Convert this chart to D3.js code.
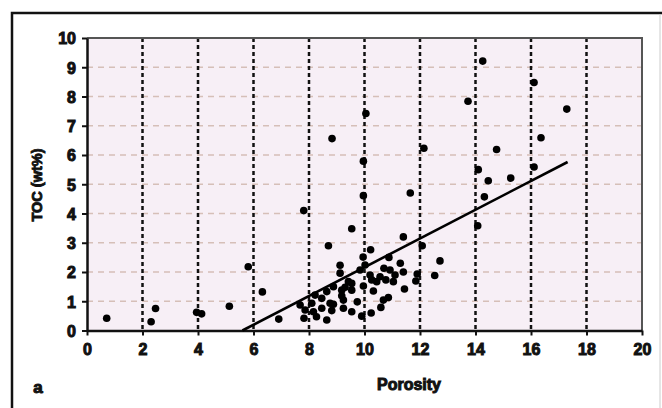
<!DOCTYPE html>
<html>
<head>
<meta charset="utf-8">
<script src="https://cdn.jsdelivr.net/npm/d3@7"></script>
<style>
  body { margin: 0; background: #fff; }
  svg { display: block; }
</style>
</head>
<body>
<div id="chart"></div>
<script>
// porosity (x) and TOC wt% (y)
const porosity = [
  0.71, 2.31, 2.47, 3.95, 4.13, 5.13, 5.81, 6.32, 6.91,
  7.81, 8.70, 8.83, 10.05, 9.96, 12.14, 9.96, 11.65, 9.54,
  14.26, 16.11, 13.73, 17.29, 16.36, 14.76, 14.10, 16.11, 14.46, 15.27, 14.32, 14.08,
  11.40, 12.08, 12.72, 12.53, 9.12, 10.22, 9.95, 10.88, 11.29, 11.40, 11.90, 11.85,
  11.44, 10.56, 10.44, 10.77, 11.04, 10.70, 10.92, 11.10, 9.96, 10.32, 10.26, 9.54,
  9.42, 9.18, 9.12, 8.88, 8.64, 8.46, 8.22, 8.10, 7.86, 7.82, 8.16, 8.27, 8.64, 8.76,
  8.46, 9.24, 9.24, 9.54, 9.74, 9.90, 10.24, 10.59, 10.68, 10.86, 9.54, 7.68, 9.84,
  10.02, 10.20, 9.30, 8.82, 8.88, 9.18
];
const toc = [
  0.42, 0.30, 0.75, 0.62, 0.57, 0.83, 2.18, 1.32, 0.39,
  4.10, 2.90, 6.56, 7.42, 5.79, 6.23, 4.61, 4.70, 3.48,
  9.21, 8.48, 7.84, 7.57, 6.59, 6.19, 5.50, 5.59, 5.12, 5.21, 4.57, 3.58,
  3.20, 2.90, 2.38, 1.88, 2.23, 2.76, 2.51, 2.50, 2.30, 2.00, 1.93, 1.69,
  1.42, 1.84, 1.67, 1.73, 1.67, 2.13, 2.07, 1.90, 1.52, 1.35, 1.73, 1.61,
  1.67, 1.38, 1.96, 1.50, 1.33, 1.10, 1.21, 0.93, 0.70, 0.42, 0.64, 0.47, 0.36, 0.93,
  0.76, 1.04, 0.76, 0.64, 0.98, 0.49, 0.60, 0.79, 1.04, 1.13, 1.38, 0.87, 2.07,
  2.24, 1.90, 1.48, 0.68, 0.90, 1.19
];
// trend line end points
const trendX = [5.6, 17.32];
const trendY = [0, 5.76];
const xTicks = [0, 2, 4, 6, 8, 10, 12, 14, 16, 18, 20];
const yTicks = [0, 1, 2, 3, 4, 5, 6, 7, 8, 9, 10];

const width = 662;
const height = 408;

const x = d3.scaleLinear().domain([0, 20]).range([87, 642]);
const y = d3.scaleLinear().domain([0, 10]).range([330.5, 38]);

const svg = d3
  .select('#chart')
  .append('svg')
  .attr('width', width)
  .attr('height', height)
  .attr('font-family', 'Liberation Sans, Arial, sans-serif');

// outer frame (right/bottom cut off in the picture)
svg
  .append('path')
  .attr('d', `M12,${height} L12,13 L${width},13`)
  .attr('fill', 'none')
  .attr('stroke', '#111')
  .attr('stroke-width', 2.5);
svg
  .append('line')
  .attr('x1', 660)
  .attr('x2', 660)
  .attr('y1', 14)
  .attr('y2', height)
  .attr('stroke', '#ccc')
  .attr('stroke-width', 1);

// plot background
svg
  .append('rect')
  .attr('x', x(0))
  .attr('y', y(10))
  .attr('width', x(20) - x(0))
  .attr('height', y(0) - y(10))
  .attr('fill', '#f7eff6');

// horizontal grid, light dashed
svg
  .append('g')
  .selectAll('line')
  .data(yTicks.filter(d => d > 0 && d < 10))
  .join('line')
  .attr('x1', x(0))
  .attr('x2', x(20))
  .attr('y1', d => y(d))
  .attr('y2', d => y(d))
  .attr('stroke', '#d6bfb8')
  .attr('stroke-width', 1.6)
  .attr('stroke-dasharray', '6,5');

// vertical grid, black dotted
svg
  .append('g')
  .selectAll('line')
  .data(xTicks.filter(d => d > 0 && d < 20))
  .join('line')
  .attr('x1', d => x(d))
  .attr('x2', d => x(d))
  .attr('y1', y(10))
  .attr('y2', y(0))
  .attr('stroke', '#111')
  .attr('stroke-width', 2.5)
  .attr('stroke-dasharray', '4,3');

// top and right border
svg
  .append('path')
  .attr('d', `M${x(0)},${y(10)} L${x(20)},${y(10)} L${x(20)},${y(0)}`)
  .attr('fill', 'none')
  .attr('stroke', '#555')
  .attr('stroke-width', 2);

// axes
const xAxis = svg
  .append('g')
  .attr('transform', `translate(0,${y(0)})`)
  .call(d3.axisBottom(x).tickValues(xTicks).tickSize(5).tickPadding(8).tickSizeOuter(0));
const yAxis = svg
  .append('g')
  .attr('transform', `translate(${x(0)},0)`)
  .call(d3.axisLeft(y).tickValues(yTicks).tickSize(5).tickPadding(6).tickSizeOuter(0));

[xAxis, yAxis].forEach(a => {
  a.select('.domain').attr('stroke', '#111').attr('stroke-width', 2.5);
  a.selectAll('.tick line').attr('stroke', '#111').attr('stroke-width', 2);
  a.selectAll('.tick text')
    .attr('fill', '#111')
    .attr('stroke', '#111')
    .attr('stroke-width', 1)
    .attr('font-size', 16)
    .attr('font-weight', 'bold');
});
yAxis.selectAll('.tick text').attr('dy', '0.36em');

// trend line
svg
  .append('line')
  .attr('x1', x(trendX[0]))
  .attr('y1', y(trendY[0]))
  .attr('x2', x(trendX[1]))
  .attr('y2', y(trendY[1]))
  .attr('stroke', '#000')
  .attr('stroke-width', 2.6);

// points
svg
  .append('g')
  .selectAll('circle')
  .data(porosity.map((p, i) => [p, toc[i]]))
  .join('circle')
  .attr('cx', d => x(d[0]))
  .attr('cy', d => y(d[1]))
  .attr('r', 3.8)
  .attr('fill', '#000');

// labels
svg
  .append('text')
  .attr('x', 409)
  .attr('y', 390)
  .attr('text-anchor', 'middle')
  .attr('font-size', 16)
  .attr('font-weight', 'bold')
  .attr('stroke', '#111')
  .attr('stroke-width', 1)
  .attr('fill', '#111')
  .text('Porosity');

svg
  .append('text')
  .attr('transform', 'translate(42,185) rotate(-90)')
  .attr('text-anchor', 'middle')
  .attr('font-size', 14.5)
  .attr('font-weight', 'bold')
  .attr('stroke', '#111')
  .attr('stroke-width', 0.9)
  .attr('fill', '#111')
  .text('TOC (wt%)');

svg
  .append('text')
  .attr('x', 38)
  .attr('y', 393)
  .attr('text-anchor', 'middle')
  .attr('font-size', 17)
  .attr('font-weight', 'bold')
  .attr('stroke', '#111')
  .attr('stroke-width', 1)
  .attr('fill', '#111')
  .text('a');
</script>
</body>
</html>
